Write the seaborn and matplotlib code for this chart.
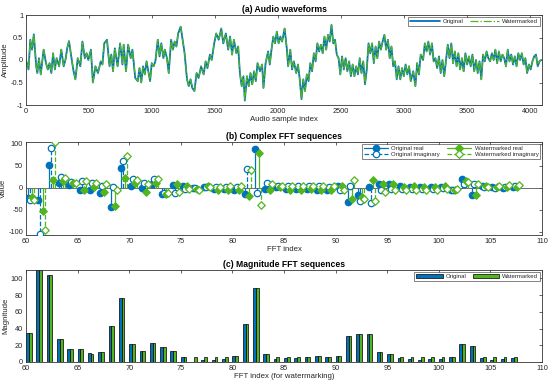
import numpy as np
import pandas as pd
import seaborn as sns
import matplotlib
matplotlib.use("Agg")
import matplotlib.pyplot as plt
from matplotlib.lines import Line2D
from matplotlib.patches import Patch

# ---------------- data ----------------
wave_idx = [0, 20, 34, 48, 62, 81, 90, 103, 117, 140, 159, 173, 187, 201, 215, 229, 243, 263, 280, 299,
            313, 327, 341, 361, 375, 392, 411, 431, 448, 467, 481, 495, 515, 531, 551, 571, 593, 607, 621, 643,
            663, 677, 691, 705, 727, 747, 766, 775, 794, 811, 831, 845, 867, 887, 901, 915, 929, 943, 957, 971,
            985, 998, 1013, 1027, 1046, 1060, 1074, 1091, 1102, 1119, 1133, 1152, 1166, 1180, 1194, 1208, 1228, 1242, 1259, 1278,
            1292, 1306, 1320, 1337, 1354, 1370, 1390, 1410, 1426, 1440, 1460, 1474, 1494, 1510, 1530, 1550, 1566, 1586, 1605, 1620,
            1636, 1650, 1670, 1684, 1698, 1712, 1726, 1737, 1754, 1768, 1782, 1796, 1810, 1824, 1838, 1857, 1874, 1885, 1902, 1922,
            1935, 1950, 1963, 1977, 1991, 2005, 2019, 2033, 2053, 2070, 2081, 2098, 2112, 2126, 2145, 2159, 2173, 2187, 2201, 2215,
            2229, 2243, 2257, 2271, 2285, 2299, 2313, 2327, 2341, 2355, 2369, 2383, 2397, 2411, 2425, 2439, 2453, 2467, 2481, 2495,
            2509, 2523, 2537, 2551, 2565, 2579, 2593, 2607, 2621, 2635, 2649, 2663, 2677, 2691, 2705, 2719, 2733, 2747, 2761, 2775,
            2789, 2803, 2817, 2831, 2845, 2859, 2873, 2887, 2901, 2915, 2929, 2943, 2957, 2971, 2985, 2999, 3013, 3027, 3041, 3054,
            3074, 3091, 3105, 3119, 3133, 3152, 3166, 3180, 3194, 3208, 3222, 3236, 3250, 3264, 3278, 3292, 3306, 3320, 3334, 3348,
            3362, 3376, 3390, 3404, 3418, 3432, 3446, 3460, 3474, 3488, 3502, 3516, 3530, 3544, 3558, 3572, 3586, 3600, 3614, 3628,
            3642, 3656, 3670, 3684, 3698, 3712, 3726, 3740, 3754, 3768, 3782, 3796, 3810, 3824, 3838, 3852, 3866, 3880, 3894, 3908,
            3922, 3936, 3950, 3964, 3978, 3992, 4006, 4020, 4034, 4048, 4062, 4076, 4090]
wave_amp = [0.0, -0.21, 0.45, 0.23, 0.57, -0.14, -0.29, 0.04, -0.32, 0.23, -0.07, -0.21, -0.07, -0.29, 0.15, -0.21, 0.04, -0.14, 0.23, -0.14,
            0.0, 0.26, 0.42, 0.04, -0.21, -0.43, 0.04, -0.14, 0.41, 0.04, 0.15, 0.0, 0.23, -0.5, -0.14, -0.29, -0.03, -0.1, 0.37, 0.45,
            -0.14, 0.12, -0.25, 0.26, -0.14, 0.37, -0.1, 0.34, -0.25, 0.34, 0.04, 0.23, -0.4, -0.47, -0.18, -0.5, -0.14, -0.32, -0.03, -0.25,
            -0.47, -0.07, -0.14, -0.03, 0.45, 0.08, 0.37, 0.04, 0.23, 0.04, -0.29, 0.45, 0.23, 0.41, 0.3, 0.59, 0.74, 0.48, 0.15, -0.43,
            -0.58, -0.43, -0.62, -0.69, -0.29, -0.4, -0.14, -0.32, -0.03, -0.18, 0.12, 0.0, 0.37, 0.59, 0.45, 0.7, 0.37, 0.59, 0.23, 0.52,
            0.12, 0.45, 0.15, 0.3, -0.29, -0.58, -0.36, -0.9, -0.36, -0.58, -0.29, -0.54, -0.25, -0.47, -0.07, -0.25, -0.1, -0.62, -0.07, 0.19,
            -0.1, 0.26, 0.52, 0.37, 0.63, 0.37, 0.52, 0.41, 0.7, 0.26, -0.14, 0.23, -0.21, -0.03, -0.29, -0.1, -0.43, -0.87, -0.43, -0.69,
            -0.32, -0.47, -0.07, -0.25, 0.15, -0.03, 0.37, 0.19, 0.34, 0.15, 0.52, 0.23, 0.56, 0.41, 0.78, 0.37, 0.45, 0.12, 0.04, -0.32,
            0.08, -0.21, 0.04, -0.25, -0.03, -0.36, -0.1, -0.36, -0.14, -0.32, 0.04, -0.29, -0.03, -0.54, -0.21, 0.37, 0.15, 0.37, -0.07, 0.3,
            0.04, 0.41, 0.23, 0.41, 0.56, 0.23, 0.45, 0.04, 0.3, -0.14, -0.03, -0.43, -0.14, -0.43, -0.18, -0.36, -0.1, -0.32, -0.14, -0.47,
            -0.25, -0.58, -0.07, -0.32, 0.12, 0.0, 0.37, 0.19, 0.41, 0.12, 0.37, -0.03, 0.04, -0.18, 0.08, -0.29, 0.0, -0.36, 0.0, 0.34,
            0.04, 0.37, -0.07, 0.19, -0.14, 0.15, -0.21, 0.04, -0.25, 0.15, -0.1, 0.08, -0.14, 0.12, -0.25, 0.0, -0.29, -0.03, -0.43, 0.12,
            -0.03, 0.19, 0.04, -0.03, 0.15, 0.0, 0.23, -0.07, 0.19, -0.03, 0.12, 0.04, -0.14, 0.23, -0.03, 0.12, -0.1, 0.08, -0.14, 0.15,
            0.0, 0.15, -0.1, 0.04, -0.29, -0.1, -0.21, -0.03, 0.08, 0.12, -0.14, -0.03, 0.0]
wave_amp_wm = list(wave_amp)

fft_idx = list(range(60, 108))
orig_real = [-22, -28, 52, 10, 6, -4, -5, -11, -43, 46, 5, -1, 8, -13, 6, 5, 0, 1, -2, -2.5,
             -6, -14, 88, -2, 1, -2, -3, -3, -5, -5, 5, -31, -17, 3, 9, 9, 5, 2, 1, 3,
             3, -4, 19, -17, 5, 1, 0, 3]
orig_imag = [-28, -104, 90, 25, 14, 15, 10, 4, 2, 61, 20, 12, 21, -12, -11, -2, -1, 2, 1, 1.5,
             3, 42, -12, 10, 4, 4.5, 5, 5, 5, 3, -4, 5, -29, -35, -6, -3, -2, -2, -2, -2,
             -1, -4, 8, 9, 2, -1, 3, 4]
wm_real = [-20, -52, 18, 15, 11, -5, 2, -10, -42, 22, 10, -10, 12, -15, 8, 5, -3, 5, -5, -5,
           -6, -19, 80, -6, 3, -4, -5, -3, -5, -5, 4, -26, -21, 18, 8, 8, 3, 5, 3, 3,
           5, -4, 16, -17, 5, 3, 2, 2]
wm_imag = [-28, -95, 103, 22, 11, 15, 11, 8, -5, 73, 18, 9, 19, -11, -10, -3, -5, 3, 3, 3.5,
           4, 40, -38, 8, 5, 4.5, 4, 5, 5, 4, -6, 17, -25, -29, -10, -4, -5, -4, -5, -5,
           -3, -3, 13, 8, 3, 5, 6, 6]

mag_orig = [35, 110, 104, 27, 15, 16, 11, 12, 43, 77, 21, 13, 23, 18, 13, 6, 0.5, 2, 2, 3,
            7, 45, 89, 10, 4, 5, 5, 6, 7, 6, 7, 31, 33, 33, 12, 9, 5, 3, 2, 4,
            3, 6, 21, 19, 5, 2, 3, 5]
mag_wm = [35, 110, 104, 27, 15, 16, 10, 12, 43, 77, 21, 13, 23, 18, 13, 6, 6, 6, 6, 6,
          7, 45, 89, 10, 6, 6, 6, 6, 7, 6, 7, 31, 33, 33, 12, 9, 6, 6, 6, 6,
          6, 6, 21, 19, 6, 6, 6, 6]

# ---------------- style ----------------
BLUE = "#0072BD"
GREEN = "#52B520"
TXT = "#262626"

sns.set_theme(style="white")
plt.rcParams["font.family"] = ["Liberation Sans", "DejaVu Sans"]
plt.rcParams["axes.unicode_minus"] = False

W, H = 550, 387
fig = plt.figure(figsize=(W / 100, H / 100), dpi=100)


def axpos(l, t, r, b):
    return fig.add_axes([l / W, 1 - b / H, (r - l) / W, (b - t) / H])


ax1 = axpos(26, 15, 542, 105)
ax2 = axpos(26, 142, 542, 235)
ax3 = axpos(26, 270, 542, 362)


def style_axes(ax):
    for s in ax.spines.values():
        s.set_color("#333333")
        s.set_linewidth(0.6)
    ax.tick_params(direction="in", length=2.5, width=0.5, labelsize=5.3,
                   colors=TXT, top=True, right=True, pad=2)


# ---------------- (a) waveforms ----------------
df_w = pd.DataFrame({"sample": wave_idx, "amp": wave_amp, "amp_wm": wave_amp_wm})
sns.lineplot(data=df_w, x="sample", y="amp", ax=ax1, color=BLUE, lw=1.3,
             estimator=None, sort=False, label="Original")
sns.lineplot(data=df_w, x="sample", y="amp_wm", ax=ax1, color=GREEN, lw=0.9,
             linestyle="-.", estimator=None, sort=False, label="Watermarked")
ax1.set_xlim(0, 4096)
ax1.set_ylim(-1, 1)
ax1.set_xticks(range(0, 4001, 500))
ax1.set_yticks([-1, -0.5, 0, 0.5, 1])
ax1.set_yticklabels(["-1", "-0.5", "0", "0.5", "1"])
ax1.set_title("(a) Audio waveforms", fontsize=6.2, fontweight="bold", pad=2, color="black")
ax1.set_xlabel("Audio sample index", fontsize=5.6, labelpad=1, color=TXT)
ax1.set_ylabel("Amplitude", fontsize=5.6, labelpad=1, color=TXT)
style_axes(ax1)
leg = ax1.legend(loc="upper right", ncol=2, fontsize=4.3, frameon=True, fancybox=False,
                 edgecolor="#262626", handlelength=5, borderpad=0.3, columnspacing=1.0,
                 handletextpad=0.5, borderaxespad=0.3)
leg.get_frame().set_linewidth(0.5)

# ---------------- (b) complex FFT stems ----------------
x = np.array(fft_idx, dtype=float)
series = [
    (x + 0.2, orig_real, BLUE, "-", "o", BLUE, "Original real"),
    (x + 0.4, orig_imag, BLUE, "--", "o", "white", "Original imaginary"),
    (x + 0.6, wm_real, GREEN, "-", "D", GREEN, "Watermarked real"),
    (x + 0.8, wm_imag, GREEN, "--", "D", "white", "Watermarked imaginary"),
]
ax2.axhline(0, color="#555555", lw=0.6, zorder=1)
handles = []
for xs, ys, col, ls, mk, fc, lab in series:
    ms = 4.6 if mk == "o" else 3.8
    ax2.vlines(xs, 0, ys, colors=col, linestyles=ls, lw=0.9, zorder=2)
    sns.scatterplot(x=xs, y=ys, ax=ax2, marker=mk, s=ms ** 2, facecolor=fc,
                    edgecolor=col, linewidth=0.9, zorder=3, legend=False)
    handles.append(Line2D([0], [0], color=col, ls=ls, lw=0.9, marker=mk, ms=ms,
                          markerfacecolor=fc, markeredgecolor=col, markeredgewidth=0.9,
                          label=lab))
ax2.set_xlim(60, 110)
ax2.set_ylim(-107, 104)
ax2.set_xticks(range(60, 111, 5))
ax2.set_yticks([-100, -50, 0, 50, 100])
ax2.set_title("(b) Complex FFT sequences", fontsize=6.2, fontweight="bold", pad=2, color="black")
ax2.set_xlabel("FFT index", fontsize=5.6, labelpad=1, color=TXT)
ax2.set_ylabel("Value", fontsize=5.6, labelpad=1, color=TXT)
style_axes(ax2)
leg = ax2.legend(handles=handles, loc="upper right", ncol=2, fontsize=4.3, frameon=True,
                 fancybox=False, edgecolor="#262626", handlelength=4, borderpad=0.3,
                 columnspacing=1.2, handletextpad=0.6, borderaxespad=0.3, labelspacing=0.2)
leg.get_frame().set_linewidth(0.5)

# ---------------- (c) magnitude bars ----------------
xb = np.array(fft_idx, dtype=float)
ax3.bar(xb, mag_orig, width=0.27, align="edge", color=BLUE, edgecolor="black", lw=0.5, label="Original")
ax3.bar(xb + 0.27, mag_wm, width=0.27, align="edge", color=GREEN, edgecolor="black", lw=0.5, label="Watermarked")
ax3.set_xlim(60, 110)
ax3.set_ylim(0, 110)
ax3.set_xticks(range(60, 111, 5))
ax3.set_yticks(range(0, 101, 20))
ax3.set_title("(c) Magnitude FFT sequences", fontsize=6.2, fontweight="bold", pad=2, color="black")
ax3.set_xlabel("FFT index (for watermarking)", fontsize=5.6, labelpad=1, color=TXT)
ax3.set_ylabel("Magnitude", fontsize=5.6, labelpad=1, color=TXT)
style_axes(ax3)
leg = ax3.legend(loc="upper right", ncol=2, fontsize=4.3, frameon=True, fancybox=False,
                 edgecolor="#262626", handlelength=4.5, handleheight=0.8, borderpad=0.3,
                 columnspacing=1.0, handletextpad=0.5, borderaxespad=0.3)
leg.get_frame().set_linewidth(0.5)

fig.savefig("out.png", dpi=100)
